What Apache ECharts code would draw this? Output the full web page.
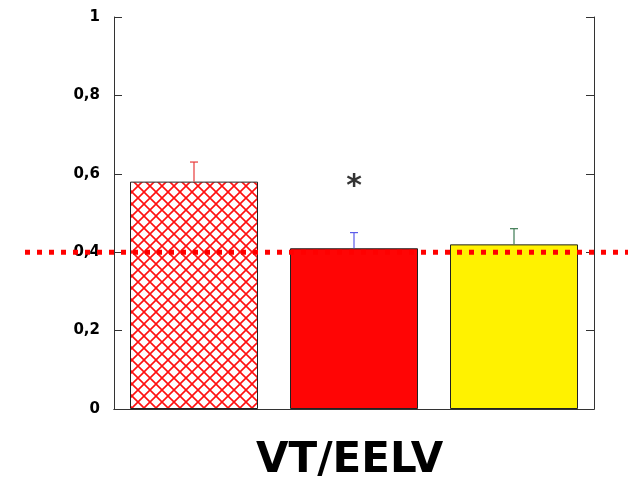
<!DOCTYPE html>
<html>
<head>
<meta charset="utf-8">
<script src="https://cdn.jsdelivr.net/npm/echarts@6/dist/echarts.min.js"></script>
<style>
  html, body { margin: 0; padding: 0; background: #fff; }
  #chart { width: 628px; height: 480px; }
</style>
</head>
<body>
<div id="chart"></div>
<script>
  // data
  const categories = ['Group 1', 'Group 2', 'Group 3'];
  const means = [0.58, 0.41, 0.42];
  const errUpper = [0.63, 0.45, 0.46];
  const refValue = 0.4;
  const starMark = [[1, 0.565]];
  const yTicks = [0, 0.2, 0.4, 0.6, 0.8, 1];

  const barColors = ['hatch', '#ff0505', '#fff200'];
  const errColors = ['#e83a3a', '#5b5bea', '#3c7a52'];
  const fontFamily = '"DejaVu Sans", Verdana, sans-serif';

  // red crosshatch tile for the first bar
  function hatchTile() {
    var c = document.createElement('canvas');
    c.width = 12; c.height = 12;
    var ctx = c.getContext('2d');
    ctx.fillStyle = '#fff';
    ctx.fillRect(0, 0, 12, 12);
    ctx.strokeStyle = '#ff1010';
    ctx.lineWidth = 1.6;
    ctx.beginPath();
    ctx.moveTo(-2, -2); ctx.lineTo(14, 14);
    ctx.moveTo(14, -2); ctx.lineTo(-2, 14);
    ctx.stroke();
    return c;
  }
  const hatch = { image: hatchTile(), repeat: 'repeat' };

  var chart = echarts.init(document.getElementById('chart'));
  var axisColor = '#333';

  var option = {
    animation: false,
    backgroundColor: '#fff',
    grid: [
      { left: 114, right: 34, top: 17, bottom: 71 },
      { left: 25, right: 0, top: 17, bottom: 71 }
    ],
    xAxis: [
      {
        type: 'category', gridIndex: 0, data: categories,
        axisLine: { lineStyle: { color: axisColor, width: 1 } },
        axisTick: { inside: true, length: 8, lineStyle: { color: axisColor } },
        axisLabel: { show: false },
        splitLine: { show: false }
      },
      {
        type: 'category', gridIndex: 0, position: 'top', data: categories,
        axisLine: { show: true, lineStyle: { color: axisColor, width: 1 } },
        axisTick: { show: false },
        axisLabel: { show: false }
      },
      { type: 'value', gridIndex: 1, min: 0, max: 1, show: false }
    ],
    yAxis: [
      {
        type: 'value', gridIndex: 0, min: 0, max: 1, interval: 0.2,
        axisLine: { show: true, lineStyle: { color: axisColor, width: 1 } },
        axisTick: { show: true, inside: true, length: 8, lineStyle: { color: axisColor } },
        splitLine: { show: false },
        axisLabel: {
          margin: 14,
          fontFamily: fontFamily, fontWeight: 'bold', fontSize: 15, color: '#000',
          formatter: function (v) {
            var r = Math.round(v * 10) / 10;
            return yTicks.indexOf(r) >= 0 ? String(r).replace('.', ',') : '';
          }
        }
      },
      {
        type: 'value', gridIndex: 0, position: 'right', min: 0, max: 1, interval: 0.2,
        axisLine: { show: true, lineStyle: { color: axisColor, width: 1 } },
        axisTick: { show: true, inside: true, length: 8, lineStyle: { color: axisColor } },
        axisLabel: { show: false },
        splitLine: { show: false }
      },
      { type: 'value', gridIndex: 1, min: 0, max: 1, show: false }
    ],
    series: [
      {
        type: 'bar', xAxisIndex: 0, yAxisIndex: 0,
        barWidth: '80%',
        data: means.map(function (v, i) {
          return {
            value: v,
            itemStyle: {
              color: barColors[i] === 'hatch' ? hatch : barColors[i],
              borderColor: '#222', borderWidth: 1
            }
          };
        }),
        z: 2
      },
      {
        type: 'custom', xAxisIndex: 0, yAxisIndex: 0,
        data: means.map(function (v, i) { return [i, v, errUpper[i]]; }),
        renderItem: function (params, api) {
          var base = api.coord([api.value(0), api.value(1)]);
          var top = api.coord([api.value(0), api.value(2)]);
          var col = errColors[params.dataIndex];
          return {
            type: 'group',
            children: [
              { type: 'line', shape: { x1: base[0], y1: base[1], x2: top[0], y2: top[1] },
                style: { stroke: col, lineWidth: 1.2 } },
              { type: 'line', shape: { x1: top[0] - 4, y1: top[1], x2: top[0] + 4, y2: top[1] },
                style: { stroke: col, lineWidth: 1.2 } }
            ]
          };
        },
        z: 3
      },
      {
        type: 'scatter', xAxisIndex: 0, yAxisIndex: 0,
        data: starMark, symbolSize: 0,
        label: {
          show: true, position: 'inside', formatter: '*',
          fontFamily: fontFamily, fontWeight: 'bold', fontSize: 30, color: '#000'
        },
        z: 4
      },
      {
        type: 'line', xAxisIndex: 2, yAxisIndex: 2,
        data: [[0, refValue], [1, refValue]],
        symbol: 'none',
        lineStyle: { color: '#ff0000', width: 5, type: [5, 7], cap: 'butt' },
        z: 5
      }
    ],
    graphic: [
      {
        type: 'text', left: 256, top: 440,
        style: {
          text: 'VT/EELV', fill: '#000',
          font: 'bold 42px ' + fontFamily
        }
      }
    ]
  };
  chart.setOption(option);
</script>
</body>
</html>
